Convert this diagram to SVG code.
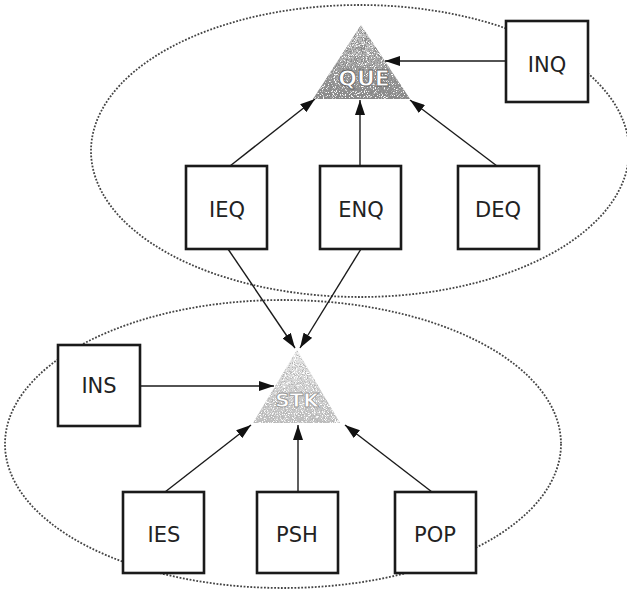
<svg xmlns="http://www.w3.org/2000/svg" width="627" height="590" viewBox="0 0 627 590">
<style>
.box{fill:#fff;stroke:#1a1a1a;stroke-width:2.6}
.lbl{font-family:"DejaVu Sans",Verdana,sans-serif;font-size:21px;fill:#222;text-anchor:middle}
.ell{fill:none;stroke:#444;stroke-width:1.8;stroke-dasharray:1.8 1.6}
.con{stroke:#1a1a1a;stroke-width:1.4;fill:none;marker-end:url(#ah)}
.tri-t{font-family:"DejaVu Sans",Verdana,sans-serif;font-weight:bold;text-anchor:middle;fill:#fff;stroke:#666;stroke-width:0.9}
</style>
<defs>
<marker id="ah" viewBox="0 0 15 10" refX="15" refY="5" markerWidth="15" markerHeight="10" markerUnits="userSpaceOnUse" orient="auto">
<path d="M0,0 L15,5 L0,10 Z" fill="#111"/>
</marker>
<filter id="grain" x="0" y="0" width="1" height="1">
<feTurbulence type="fractalNoise" baseFrequency="1.1" numOctaves="2" seed="4" result="n"/>
<feColorMatrix in="n" type="matrix" values="0 0 0 0 0.25 0 0 0 0 0.25 0 0 0 0 0.25 7 0 0 0 -3.2" result="d"/>
<feColorMatrix in="n" type="matrix" values="0 0 0 0 1 0 0 0 0 1 0 0 0 0 1 0 -7 0 0 3.0" result="w"/>
<feComposite in="d" in2="SourceGraphic" operator="in" result="dd"/>
<feComposite in="w" in2="SourceGraphic" operator="in" result="ww"/>
<feMerge><feMergeNode in="SourceGraphic"/><feMergeNode in="dd"/><feMergeNode in="ww"/></feMerge>
</filter>
<filter id="grainL" x="0" y="0" width="1" height="1">
<feTurbulence type="fractalNoise" baseFrequency="1.1" numOctaves="2" seed="9" result="n"/>
<feColorMatrix in="n" type="matrix" values="0 0 0 0 0.45 0 0 0 0 0.45 0 0 0 0 0.45 6 0 0 0 -3.0" result="d"/>
<feColorMatrix in="n" type="matrix" values="0 0 0 0 1 0 0 0 0 1 0 0 0 0 1 0 -7 0 0 3.2" result="w"/>
<feComposite in="d" in2="SourceGraphic" operator="in" result="dd"/>
<feComposite in="w" in2="SourceGraphic" operator="in" result="ww"/>
<feMerge><feMergeNode in="SourceGraphic"/><feMergeNode in="dd"/><feMergeNode in="ww"/></feMerge>
</filter>
<linearGradient id="gq" x1="0" y1="0" x2="0" y2="1">
<stop offset="0" stop-color="#cfcfcf"/><stop offset="1" stop-color="#888"/>
</linearGradient>
<linearGradient id="gs" x1="0" y1="0" x2="0" y2="1">
<stop offset="0" stop-color="#e6e6e6"/><stop offset="1" stop-color="#c0c0c0"/>
</linearGradient>
</defs>
<rect width="627" height="590" fill="#fff"/>
<g id="groups">
<ellipse class="ell" cx="360" cy="151" rx="269" ry="146"/>
<ellipse class="ell" cx="283" cy="444" rx="278" ry="144"/>
</g>
<g id="QUE">
<path d="M361,25 L313,99 L410,99 Z" fill="url(#gq)" filter="url(#grain)"/>
<text class="tri-t" x="364" y="86" font-size="22">QUE</text>
</g>
<g id="STK">
<path d="M297,350 L253,423 L340,423 Z" fill="url(#gs)" filter="url(#grainL)"/>
<text class="tri-t" x="297" y="407" font-size="20" style="stroke:#999">STK</text>
</g>
<g id="INQ"><rect class="box" x="506" y="21" width="82" height="81"/><text class="lbl" x="547" y="72">INQ</text></g>
<g id="IEQ"><rect class="box" x="186" y="166" width="81" height="83"/><text class="lbl" x="227" y="217">IEQ</text></g>
<g id="ENQ"><rect class="box" x="320" y="166" width="81" height="83"/><text class="lbl" x="361" y="217">ENQ</text></g>
<g id="DEQ"><rect class="box" x="458" y="166" width="81" height="83"/><text class="lbl" x="498" y="217">DEQ</text></g>
<g id="INS"><rect class="box" x="58" y="345" width="82" height="81"/><text class="lbl" x="99" y="393">INS</text></g>
<g id="IES"><rect class="box" x="123" y="492" width="81" height="81"/><text class="lbl" x="164" y="542">IES</text></g>
<g id="PSH"><rect class="box" x="257" y="492" width="81" height="81"/><text class="lbl" x="297" y="542">PSH</text></g>
<g id="POP"><rect class="box" x="395" y="492" width="81" height="81"/><text class="lbl" x="435" y="542">POP</text></g>
<g id="connectors">
<line class="con" x1="506" y1="61" x2="385" y2="61"/>
<line class="con" x1="230" y1="166" x2="315" y2="99"/>
<line class="con" x1="360" y1="166" x2="360" y2="100"/>
<line class="con" x1="497" y1="166" x2="410" y2="100"/>
<line class="con" x1="228" y1="249" x2="295" y2="348"/>
<line class="con" x1="361" y1="249" x2="300" y2="348"/>
<line class="con" x1="140" y1="386" x2="274" y2="386"/>
<line class="con" x1="165" y1="492" x2="251" y2="425"/>
<line class="con" x1="298" y1="492" x2="298" y2="425"/>
<line class="con" x1="432" y1="492" x2="345" y2="425"/>
</g>
</svg>
